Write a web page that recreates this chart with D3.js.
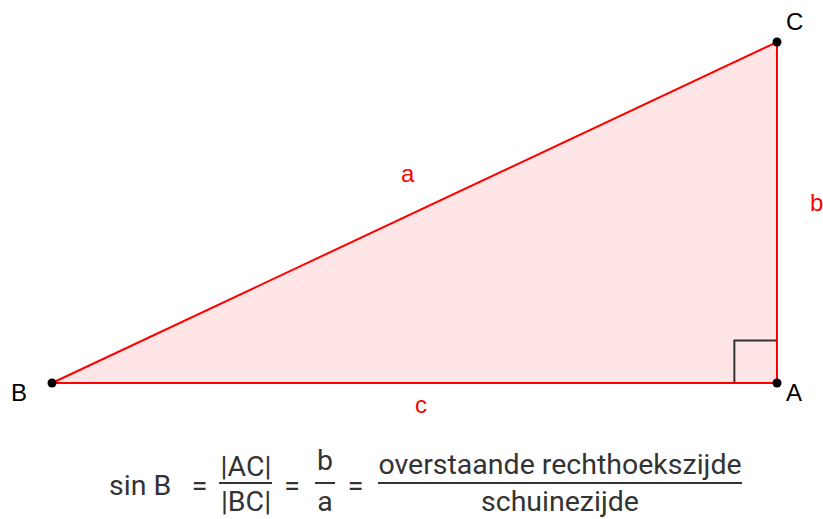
<!DOCTYPE html>
<html><head><meta charset="utf-8">
<script src="https://cdn.jsdelivr.net/npm/d3@7"></script>
<style>body{margin:0;background:#fff}svg{display:block}text{font-family:"Liberation Sans",Arial,sans-serif}.fm text{font-family:Roboto,"Liberation Sans",sans-serif}</style>
</head><body>
<svg id="chart" width="823" height="519"></svg>
<script>
const pointNames = ["B", "A", "C"];
const pointX = [0, 8.5, 8.5];
const pointY = [0, 0, 4];
const sideNames = ["a", "b", "c"];
const rightAngleSize = 0.5;

const svg = d3.select("#chart");
const x = d3.scaleLinear().domain([0, 8.5]).range([52, 777]);
const y = d3.scaleLinear().domain([0, 4]).range([383, 42]);
const P = {};
pointNames.forEach((n, i) => P[n] = [x(pointX[i]), y(pointY[i])]);

svg.append("polygon")
  .attr("points", pointNames.map(n => P[n].join(",")).join(" "))
  .attr("fill", "rgba(255,0,0,0.1)")
  .attr("stroke", "none");

// right angle marker
const A = pointNames.indexOf("A");
const s = rightAngleSize;
svg.append("path")
  .attr("d", d3.line()([[x(pointX[A]-s), y(pointY[A])], [x(pointX[A]-s), y(pointY[A]+s)], [x(pointX[A]), y(pointY[A]+s)]]))
  .attr("fill", "none").attr("stroke", "#333").attr("stroke-width", 2);

svg.append("polygon")
  .attr("points", pointNames.map(n => P[n].join(",")).join(" "))
  .attr("fill", "none")
  .attr("stroke", "#ff0000").attr("stroke-width", 2);

svg.selectAll("circle.pt").data(pointNames).join("circle")
  .attr("cx", n => P[n][0]).attr("cy", n => P[n][1]).attr("r", 4.5).attr("fill", "#000");

const labelPos = {B: [11, 401], A: [786, 401], C: [786, 30]};
svg.selectAll("text.pl").data(pointNames).join("text")
  .attr("x", n => labelPos[n][0]).attr("y", n => labelPos[n][1])
  .attr("font-size", 24).attr("fill", "#000").text(n => n);

const sidePos = {a: [401, 182], b: [810, 211], c: [415, 413]};
svg.selectAll("text.sl").data(sideNames).join("text")
  .attr("x", n => sidePos[n][0]).attr("y", n => sidePos[n][1])
  .attr("font-size", 24).attr("fill", "#ff0000").text(n => n);

// formula
const f = svg.append("g").attr("class", "fm").attr("font-size", 28.5).attr("fill", "#333");
const t = (xx, yy, str, anchor) => f.append("text").attr("x", xx).attr("y", yy).attr("text-anchor", anchor || "middle").text(str);
const ln = (x1, x2) => f.append("line").attr("x1", x1).attr("x2", x2).attr("y1", 483).attr("y2", 483).attr("stroke", "#333").attr("stroke-width", 2);
t(109, 495, "sin B", "start");
t(199.5, 495, "=");
t(246, 476, "|AC|");
t(246, 511, "|BC|");
ln(219, 272);
t(292, 495, "=");
t(325, 470, "b");
t(325, 511, "a");
ln(315, 335);
t(355.5, 495, "=");
t(560, 474, "overstaande rechthoekszijde");
t(560, 511, "schuinezijde");
ln(378, 742);
</script>
</body></html>
